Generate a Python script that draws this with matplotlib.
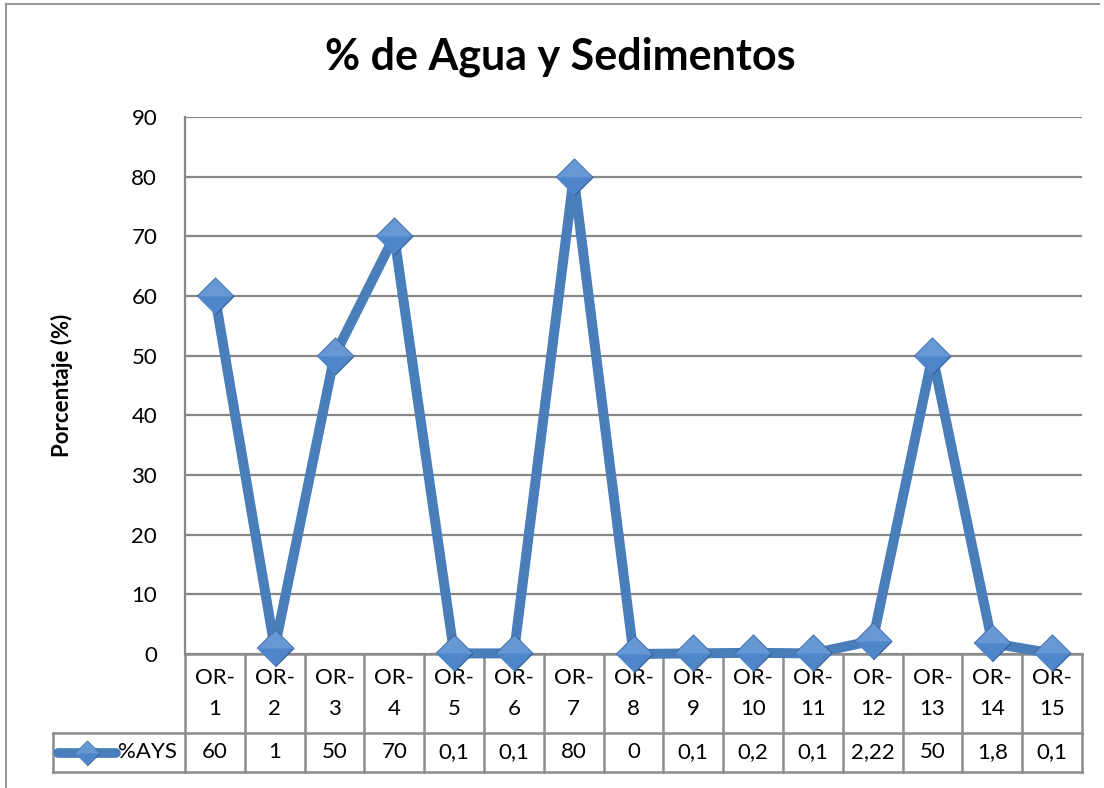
import matplotlib
matplotlib.use("Agg")
import matplotlib.pyplot as plt
from matplotlib.lines import Line2D
from matplotlib.transforms import blended_transform_factory

plt.rcParams['font.family'] = ['Lato', 'DejaVu Sans']

categories = ["OR-1", "OR-2", "OR-3", "OR-4", "OR-5", "OR-6", "OR-7", "OR-8",
              "OR-9", "OR-10", "OR-11", "OR-12", "OR-13", "OR-14", "OR-15"]
values = [60, 1, 50, 70, 0.1, 0.1, 80, 0, 0.1, 0.2, 0.1, 2.22, 50, 1.8, 0.1]
value_labels = ["60", "1", "50", "70", "0,1", "0,1", "80", "0", "0,1", "0,2",
                "0,1", "2,22", "50", "1,8", "0,1"]
series_name = "%AYS"
title = "% de Agua y Sedimentos"
ylabel = "Porcentaje (%)"
yticks = [0, 10, 20, 30, 40, 50, 60, 70, 80, 90]

W, H = 1104, 788
fig = plt.figure(figsize=(W / 100, H / 100), dpi=100)
fig.patch.set_facecolor("white")

L, R, T, B = 185, 1082, 117, 654
ax = fig.add_axes([L / W, 1 - B / H, (R - L) / W, (B - T) / H])

line_c = "#4A7EBB"
grid_c = "#878787"
face_c = "#4F86C9"
light_c = "#79A8E0"
edge_c = "#2F5C95"

x = list(range(len(categories)))
ax.plot(x, values, color=line_c, lw=7.2, solid_joinstyle="round", zorder=3, clip_on=False)
diamond = [(-1, 0), (0, 1), (1, 0), (0, -1)]
top_half = [(-1, 0), (0, 1), (1, 0)]
ax.plot(x, values, ls="none", marker=diamond, ms=26.5, mfc=face_c, mec=edge_c,
        mew=0.8, zorder=4, clip_on=False)
ax.plot(x, values, ls="none", marker=top_half, ms=26.5, mfc=light_c, mec="none",
        alpha=0.55, zorder=5, clip_on=False)

ax.set_xlim(-0.5, len(categories) - 0.5)
ax.set_ylim(0, 90)
ax.set_yticks(yticks)
ax.set_xticks([])
ax.tick_params(axis="y", length=0, pad=20, labelsize=16)
for s in ["top", "right", "bottom"]:
    ax.spines[s].set_visible(False)
ax.spines["left"].set_color(grid_c)
ax.spines["left"].set_linewidth(1.6)
ax.yaxis.grid(True, color=grid_c, lw=1.6)
ax.set_axisbelow(True)

ax.set_ylabel(ylabel, fontsize=16, fontweight="bold", labelpad=42)

fig.text(560 / W, 1 - 57 / H, title, fontsize=31, fontweight="bold",
         ha="center", va="center")

# data table
trans = blended_transform_factory(ax.transData, ax.transAxes)
axh = B - T
y_hdr_bot = -(733 - B) / axh
y_tbl_bot = -(772 - B) / axh
tbl_c = "#8C8C8C"
n = len(categories)
ax.plot([-0.5, n - 0.5], [0, 0], transform=trans, color=tbl_c, lw=1.8, clip_on=False, zorder=2)
ax.plot([-0.5, n - 0.5], [y_hdr_bot, y_hdr_bot], transform=trans, color=tbl_c, lw=1.8, clip_on=False)
ax.plot([-0.5, n - 0.5], [y_tbl_bot, y_tbl_bot], transform=trans, color=tbl_c, lw=1.8, clip_on=False)
x_leg = (53 - L) / (R - L)
ax.plot([x_leg, 0], [y_hdr_bot, y_hdr_bot], transform=ax.transAxes, color=tbl_c, lw=1.8, clip_on=False)
ax.plot([x_leg, 0], [y_tbl_bot, y_tbl_bot], transform=ax.transAxes, color=tbl_c, lw=1.8, clip_on=False)
ax.plot([x_leg, x_leg], [y_hdr_bot, y_tbl_bot], transform=ax.transAxes, color=tbl_c, lw=1.8, clip_on=False)
for i in range(n + 1):
    xb = i - 0.5
    ax.plot([xb, xb], [0, y_tbl_bot], transform=trans, color=tbl_c, lw=1.8, clip_on=False)
for i, (c, v) in enumerate(zip(categories, value_labels)):
    head = c.replace("-", "-\n")
    ax.text(i, (y_hdr_bot) / 2, head, transform=trans, ha="center", va="center",
            fontsize=16, linespacing=1.65)
    ax.text(i, (y_hdr_bot + y_tbl_bot) / 2, v, transform=trans, ha="center",
            va="center", fontsize=16)
ym = (y_hdr_bot + y_tbl_bot) / 2
x1 = (58 - L) / (R - L)
x2 = (116 - L) / (R - L)
xm = (87 - L) / (R - L)
ax.add_line(Line2D([x1, x2], [ym, ym], transform=ax.transAxes, color=line_c, lw=7,
                   solid_capstyle="round", clip_on=False))
ax.add_line(Line2D([xm], [ym], transform=ax.transAxes, ls="none", marker=diamond,
                   ms=18, mfc=face_c, mec=edge_c, mew=0.6, clip_on=False))
ax.add_line(Line2D([xm], [ym], transform=ax.transAxes, ls="none", marker=top_half,
                   ms=18, mfc=light_c, mec="none", alpha=0.55, clip_on=False))
ax.text((118 - L) / (R - L), ym, series_name, transform=ax.transAxes, ha="left",
        va="center", fontsize=16)

fc = "#9A9A9A"
fig.add_artist(Line2D([6 / W, 6 / W], [0, 1 - 4 / H], color=fc, lw=1.5))
fig.add_artist(Line2D([6 / W, 1099 / W], [1 - 4 / H, 1 - 4 / H], color=fc, lw=1.5))

fig.savefig("out.png", dpi=100, facecolor="white")
